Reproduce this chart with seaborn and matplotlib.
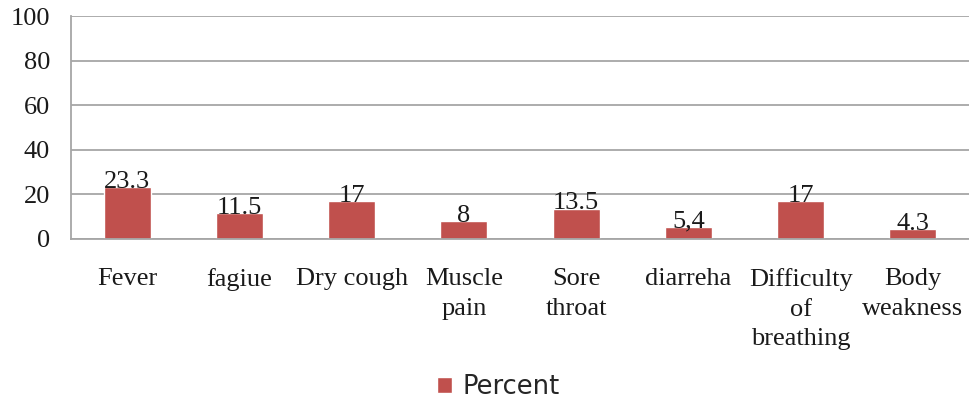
import matplotlib
matplotlib.use("Agg")
import matplotlib.pyplot as plt
import seaborn as sns
import pandas as pd

categories = ["Fever", "fagiue", "Dry cough", "Muscle\npain", "Sore\nthroat",
              "diarreha", "Difficulty\nof\nbreathing", "Body\nweakness"]
values = [23.3, 11.5, 17, 8, 13.5, 5.4, 17, 4.3]
labels = ["23.3", "11.5", "17", "8", "13.5", "5,4", "17", "4.3"]
yticks = [0, 20, 40, 60, 80, 100]
series_name = "Percent"

sns.set_theme(style="white")
plt.rcParams['font.family'] = ['Liberation Serif', 'DejaVu Serif']

df = pd.DataFrame({"cat": categories, "val": values, "series": series_name})

fig = plt.figure(figsize=(9.69, 4.03), dpi=100)
ax = fig.add_axes([0.0733, 0.407, 0.9267, 0.553])

sns.barplot(data=df, x="cat", y="val", hue="series", palette=["#C0504D"],
            width=0.42, ax=ax, legend=True, saturation=1)

ax.set_ylim(0, 100)
ax.set_xlim(-0.5, 7.5)
ax.set_yticks(yticks)
ax.yaxis.grid(True, color="#A6A6A6", linewidth=1.3)
ax.set_axisbelow(True)
for s in ["top", "right"]:
    ax.spines[s].set_visible(False)
for s in ["left", "bottom"]:
    ax.spines[s].set_color("#A6A6A6")
    ax.spines[s].set_linewidth(1.3)
ax.set_xlabel("")
ax.set_ylabel("")
ax.tick_params(axis="y", length=0, pad=15, labelsize=19, labelcolor="#1a1a1a")
ax.tick_params(axis="x", length=0, pad=21, labelsize=19, labelcolor="#1a1a1a")
for t in ax.get_xticklabels():
    t.set_linespacing(1.45)
    t.set_verticalalignment("top")

for i, (v, lab) in enumerate(zip(values, labels)):
    ax.annotate(lab, (i, v), xytext=(0, -4), textcoords="offset points",
                ha="center", va="bottom", fontsize=19, color="#1a1a1a")

leg = ax.legend(loc="center", bbox_to_anchor=(0.514, 0.04), bbox_transform=fig.transFigure,
                frameon=False, prop={"family": "DejaVu Sans", "size": 18.5},
                handlelength=0.6, handleheight=0.6, handletextpad=0.4)

fig.savefig("out.png", dpi=100)
